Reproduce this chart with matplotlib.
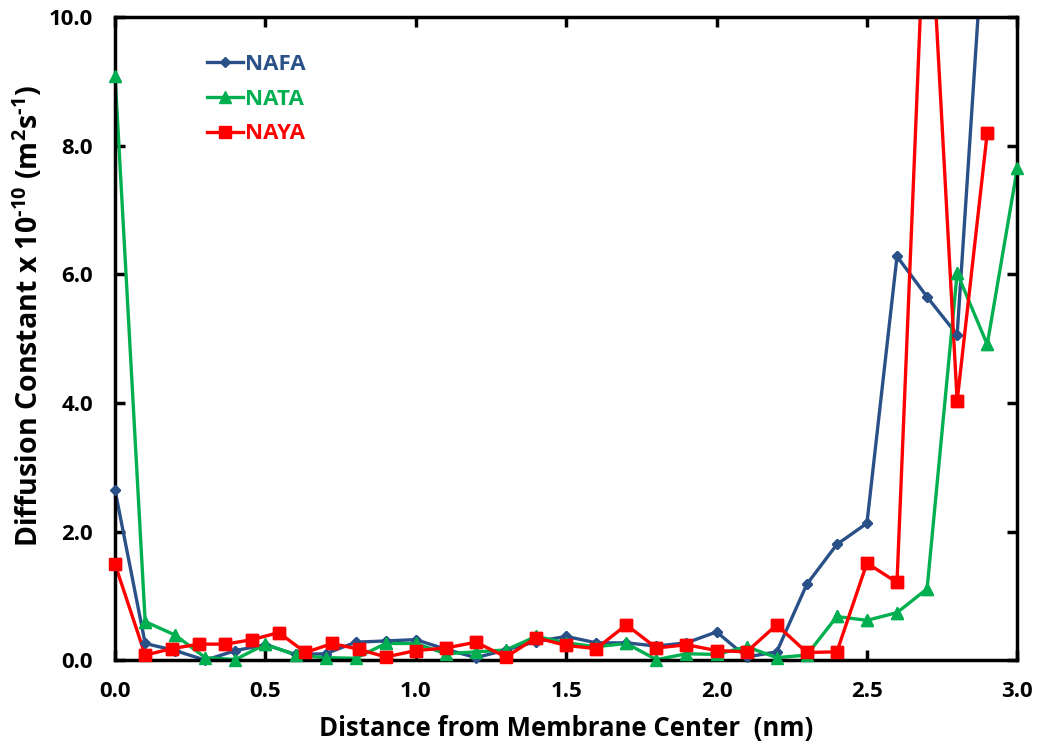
import matplotlib
matplotlib.use("Agg")
from matplotlib import pyplot as plt
import numpy as np

# distance from membrane center (nm)
x_fa = [0.0, 0.1, 0.2, 0.3, 0.4, 0.5, 0.6, 0.7, 0.8, 0.9,
        1.0, 1.1, 1.2, 1.3, 1.4, 1.5, 1.6, 1.7, 1.8, 1.9,
        2.0, 2.1, 2.2, 2.3, 2.4, 2.5, 2.6, 2.7, 2.8, 2.9]
x_ta = x_fa + [3.0]
x_ya = [0.0, 0.1, 0.189, 0.278, 0.367, 0.456, 0.544, 0.633, 0.722, 0.811, 0.9,
        1.0, 1.1, 1.2, 1.3, 1.4, 1.5, 1.6, 1.7, 1.8, 1.9,
        2.0, 2.1, 2.2, 2.3, 2.4, 2.5, 2.6, 2.7, 2.8, 2.9]

# diffusion constant x 1e-10 (m2/s)
nafa = [2.64, 0.26, 0.15, 0.0, 0.15, 0.24, 0.09, 0.10, 0.28, 0.30,
        0.32, 0.17, 0.04, 0.16, 0.29, 0.37, 0.27, 0.27, 0.22, 0.27,
        0.44, 0.05, 0.13, 1.18, 1.80, 2.13, 6.28, 5.65, 5.06, 12.2]
nata = [9.08, 0.60, 0.39, 0.04, 0.01, 0.25, 0.08, 0.04, 0.03, 0.26,
        0.26, 0.10, 0.13, 0.16, 0.37, 0.27, 0.21, 0.26, 0.01, 0.10,
        0.09, 0.21, 0.04, 0.08, 0.68, 0.62, 0.74, 1.11, 6.02, 4.91, 7.65]
naya = [1.49, 0.08, 0.18, 0.25, 0.25, 0.32, 0.43, 0.12, 0.26, 0.17, 0.05,
        0.15, 0.19, 0.28, 0.05, 0.35, 0.23, 0.18, 0.55, 0.19, 0.24,
        0.15, 0.13, 0.55, 0.12, 0.13, 1.51, 1.21, 12.6, 4.03, 8.2]

c_fa = '#2a5088'
c_ta = '#00b050'
c_ya = '#ff0000'

plt.rcParams['font.family'] = ['Open Sans', 'DejaVu Sans']
plt.rcParams['font.weight'] = 'bold'
plt.rcParams['mathtext.fontset'] = 'custom'
plt.rcParams['mathtext.rm'] = 'Open Sans:bold'
plt.rcParams['mathtext.bf'] = 'Open Sans:bold'
plt.rcParams['mathtext.default'] = 'bf'

fig = plt.figure(figsize=(10.37, 7.46), dpi=100, facecolor='white')
ax = fig.add_axes([0.111, 0.115, 0.870, 0.862])

series = [(x_fa, nafa, c_fa, 'D', 5.5, 'NAFA'),
          (x_ta, nata, c_ta, '^', 8, 'NATA'),
          (x_ya, naya, c_ya, 's', 8.5, 'NAYA')]
for xs, ys, c, m, ms, lab in series:
    ax.plot(xs, ys, color=c, lw=2.4, marker=m, ms=ms, label=lab)
    # markers at the plot edges drawn on top of the frame
    xs = np.array(xs)
    ys = np.array(ys)
    keep = ys <= 10
    ax.plot(xs[keep], ys[keep], ls='none', marker=m, ms=ms, color=c,
            clip_on=False, zorder=5)

ax.set_xlim(0, 3.0)
ax.set_ylim(0, 10.0)
ax.set_xticks(np.arange(0, 3.01, 0.5))
ax.set_yticks(np.arange(0, 10.01, 2.0))
ax.set_xticklabels(['%.1f' % v for v in np.arange(0, 3.01, 0.5)])
ax.set_yticklabels(['%.1f' % v for v in np.arange(0, 10.01, 2.0)])
ax.tick_params(direction='in', length=7, width=2.5, top=True, right=True,
               labelsize=16)
ax.tick_params(axis='y', pad=16)
ax.tick_params(axis='x', pad=15)
for s in ax.spines.values():
    s.set_linewidth(2.5)

ax.set_xlabel('Distance from Membrane Center  (nm)', fontsize=18.5,
              fontweight='bold', labelpad=9)
ax.set_ylabel(r'Diffusion Constant x 10$^{\text{-}10}$ (m$^{2}$s$^{\text{-}1}$)',
              fontsize=20.5, fontweight='bold')
ax.yaxis.set_label_coords(-0.078, 0.535)

leg = ax.legend(loc='upper left', bbox_to_anchor=(0.08, 0.974), frameon=False,
                fontsize=16, handlelength=1.6, handletextpad=0.1,
                labelspacing=0.62)
for t, c in zip(leg.get_texts(), [c_fa, c_ta, c_ya]):
    t.set_color(c)
    t.set_fontweight('bold')

plt.savefig("out.png", dpi=100)
